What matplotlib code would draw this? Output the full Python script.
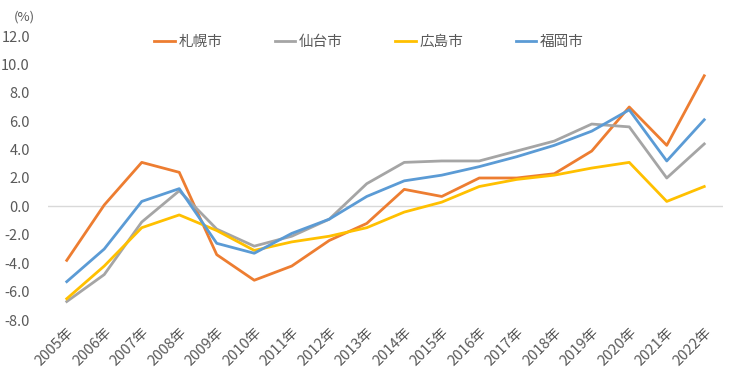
import matplotlib.pyplot as plt

plt.rcParams['font.family'] = ['Noto Sans CJK JP', 'DejaVu Sans']

years = [str(y) + '年' for y in range(2005, 2023)]
sapporo = [-3.8, 0.1, 3.1, 2.4, -3.4, -5.2, -4.2, -2.4, -1.2, 1.2, 0.7, 2.0, 2.0, 2.3, 3.9, 7.0, 4.3, 9.2]
sendai = [-6.7, -4.8, -1.1, 1.1, -1.6, -2.8, -2.1, -0.9, 1.6, 3.1, 3.2, 3.2, 3.9, 4.6, 5.8, 5.6, 2.0, 4.4]
hiroshima = [-6.5, -4.2, -1.5, -0.6, -1.7, -3.1, -2.5, -2.1, -1.5, -0.4, 0.3, 1.4, 1.9, 2.2, 2.7, 3.1, 0.35, 1.4]
fukuoka = [-5.3, -3.0, 0.35, 1.25, -2.6, -3.3, -1.9, -0.9, 0.7, 1.8, 2.2, 2.8, 3.5, 4.3, 5.3, 6.8, 3.2, 6.1]
names = ['札幌市', '仙台市', '広島市', '福岡市']
colors = ['#ED7D31', '#A5A5A5', '#FFC000', '#5B9BD5']

fig = plt.figure(figsize=(7.3, 3.9), dpi=100)
ax = fig.add_axes([48/730, 1-320/390, 675/730, 284/390])

x = range(len(years))
for vals, name, c in zip([sapporo, sendai, hiroshima, fukuoka], names, colors):
    ax.plot(x, vals, color=c, lw=2, label=name)

ax.axhline(0, color='#D9D9D9', lw=1, zorder=0)
ax.set_xlim(-0.5, len(years) - 0.5)
ax.set_ylim(-8, 12)
ax.set_yticks(range(-8, 13, 2))
ax.set_yticklabels(['%.1f' % v for v in range(-8, 13, 2)])
ax.set_xticks(list(x))
ax.set_xticklabels(years, rotation=45, ha='right', rotation_mode='anchor')
ax.tick_params(length=0, colors='#595959', labelsize=10.5)
ax.tick_params(axis='y', pad=13)
for s in ax.spines.values():
    s.set_visible(False)

fig.text(14/730, 1-17/390, '(%)', color='#595959', fontsize=9.5, va='center')

leg = fig.legend(loc='center', bbox_to_anchor=(369/730, 1-42/390), ncol=4, frameon=False,
                 handlelength=1.4, handletextpad=0.25, columnspacing=3.6, fontsize=10.5)
for t in leg.get_texts():
    t.set_color('#595959')

fig.savefig('out.png', dpi=100)
